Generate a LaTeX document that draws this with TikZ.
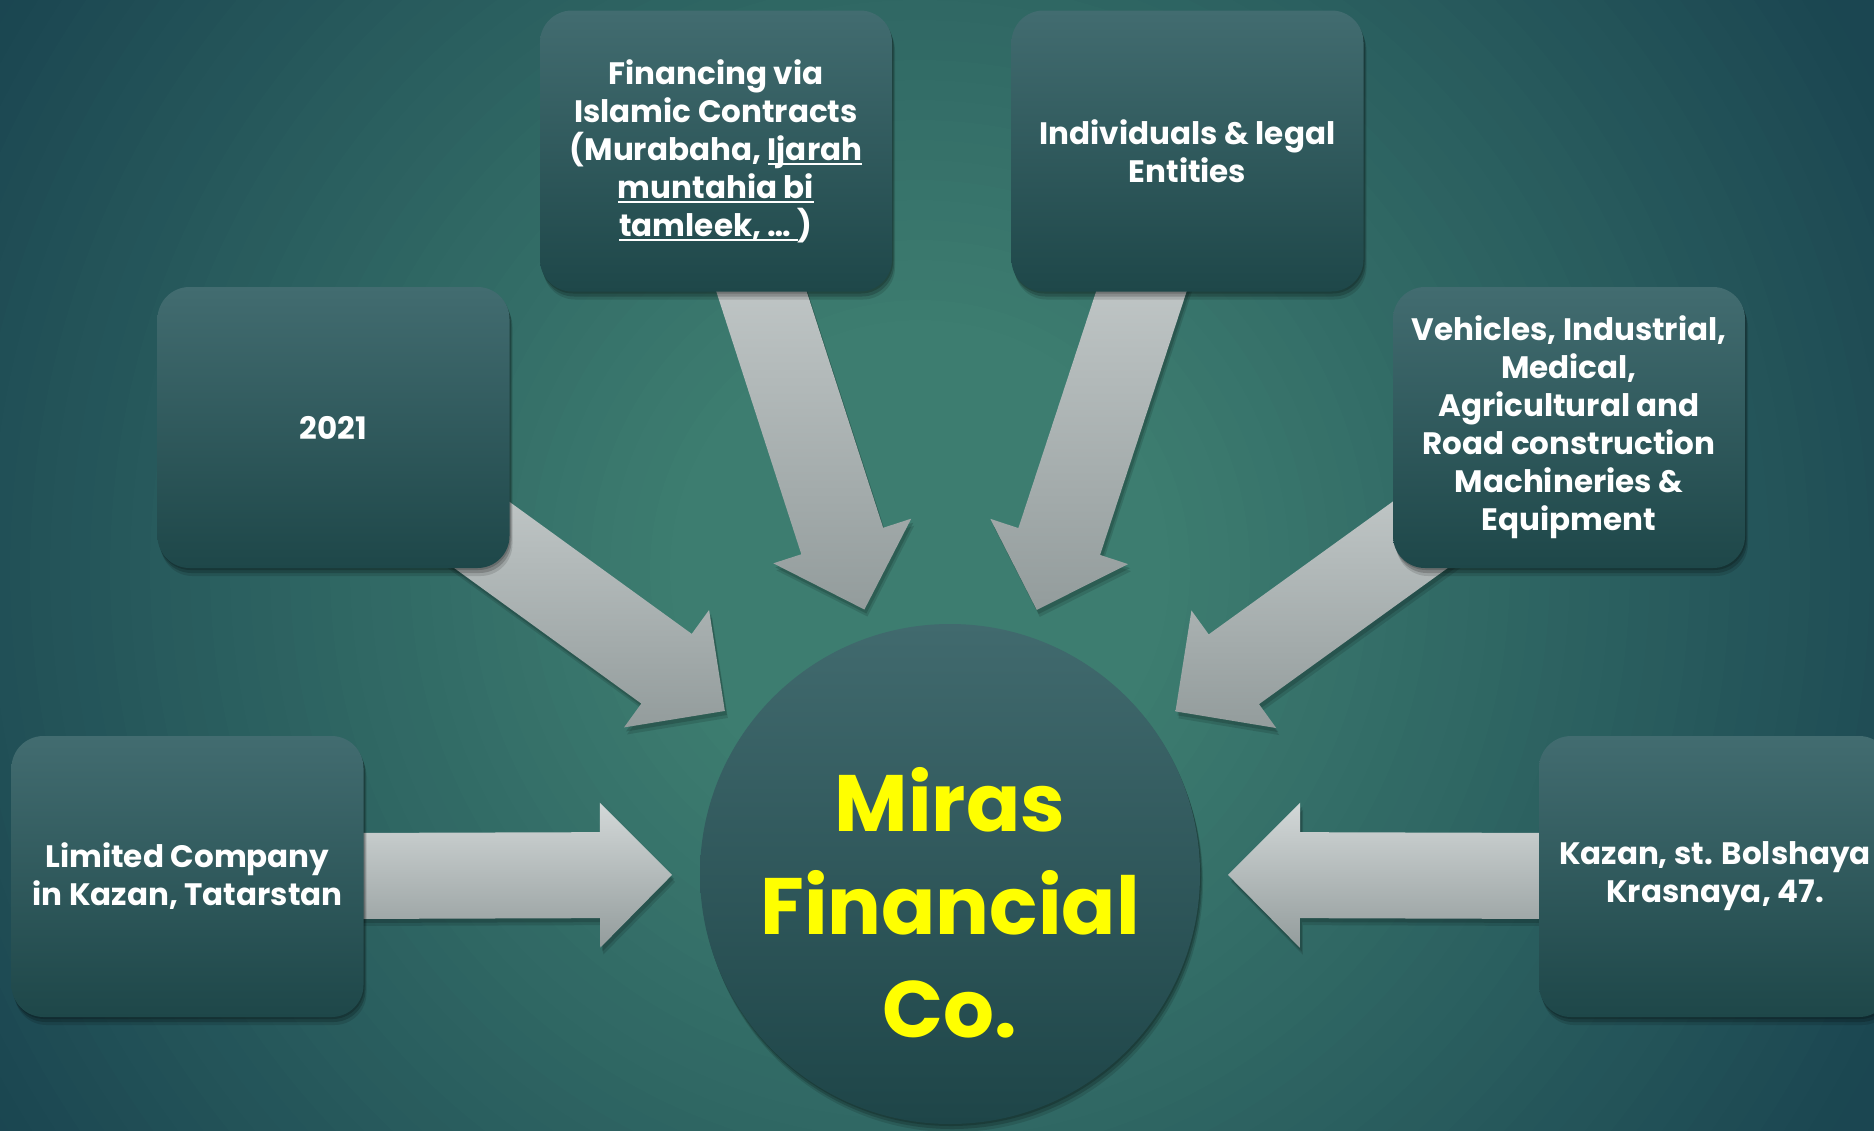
\documentclass[tikz,border=0pt]{standalone}
\usepackage{fontspec}
\setmainfont{Poppins}
\usetikzlibrary{calc,shadows}
\definecolor{bgin}{HTML}{3D7D70}
\definecolor{bgout}{HTML}{1B4651}
\definecolor{boxtop}{HTML}{426C70}
\definecolor{boxbot}{HTML}{1E4749}
\definecolor{circtop}{HTML}{416A6E}
\definecolor{circbot}{HTML}{1E4548}
\definecolor{arrtop}{HTML}{D3D8D8}
\definecolor{arrbot}{HTML}{939C9C}
\definecolor{mirasyellow}{HTML}{FFFF00}
\newcommand\ulword[1]{\setbox0\hbox{#1}\rlap{\rule[-2.6pt]{\wd0}{1pt}}\box0}
\pgfdeclarelayer{bglayer}
\pgfdeclarelayer{arrlayer}
\pgfsetlayers{bglayer,arrlayer,main}
\newcommand\blkarrow[2]{%
  \coordinate (bT) at ($(#2.center)!139pt!(#1.center)$);
  \coordinate (bH) at ($(bT)!36pt!(#1.center)$);
  \coordinate (bS) at (#1.center);
  \path[arrowsty] ($(bS)!21.5pt!90:(bT)$) -- ($(bH)!21.5pt!90:(bT)$) -- ($(bH)!36.25pt!90:(bT)$) -- (bT)
    -- ($(bH)!36.25pt!-90:(bT)$) -- ($(bH)!21.5pt!-90:(bT)$) -- ($(bS)!21.5pt!-90:(bT)$) -- cycle;
}
\tikzset{
  softshadow/.style={
    drop shadow={shadow xshift=0.5pt, shadow yshift=-1pt, opacity=0.18, fill=black},
    drop shadow={shadow xshift=1pt, shadow yshift=-2.5pt, opacity=0.18, fill=black},
    drop shadow={shadow xshift=1.5pt, shadow yshift=-4pt, opacity=0.12, fill=black}},
  infobox/.style={rectangle, rounded corners=16pt, minimum width=176pt, minimum height=140.5pt,
    inner sep=0pt, top color=boxtop, bottom color=boxbot, text=white, align=center,
    font=\bfseries\fontsize{15.5}{19}\selectfont, softshadow},
  hub/.style={circle, minimum size=250pt, inner sep=0pt, top color=circtop, bottom color=circbot,
    softshadow},
  hubtext/.style={text=mirasyellow, align=center, font=\bfseries\fontsize{40}{51.5}\selectfont},
  arrowsty/.style={top color=arrtop, bottom color=arrbot,
    drop shadow={shadow xshift=1pt, shadow yshift=-2pt, opacity=0.15, fill=black},
    drop shadow={shadow xshift=1.5pt, shadow yshift=-3.5pt, opacity=0.12, fill=black}}
}
\begin{document}
\begin{tikzpicture}[x=0.5pt,y=-0.5pt]
\useasboundingbox (0,0) rectangle (1874,1130);
\begin{pgfonlayer}{bglayer}
  \clip (0,0) rectangle (1874,1130);
  \fill[bgout] (0,0) rectangle (1874,1130);
  \foreach \r in {1250,1230,...,10} {
    \pgfmathsetmacro\p{max(0,min(100,(1080-\r)/8.3))}
    \fill[bgin!\p!bgout] (920,570) circle[radius=\r];
  }
\end{pgfonlayer}

\node[infobox] (fin) at (716,151) {Financing via\\Islamic Contracts\\(Murabaha, \ulword{Ijarah}\\\ulword{muntahia bi}\\\ulword{tamleek, …\ })};
\node[infobox] (ind) at (1187.5,151) {Individuals \& legal\\Entities};
\node[infobox] (yr) at (333.5,427.5) {2021};
\node[infobox] (veh) at (1569,427.5) {Vehicles, Industrial,\\Medical,\\Agricultural and\\Road construction\\Machineries \&\\Equipment};
\node[infobox] (ltd) at (187.5,876.5) {Limited Company\\in Kazan, Tatarstan};
\node[infobox] (kaz) at (1715,876.5) {Kazan, st. Bolshaya\\Krasnaya, 47.};
\node[hub] (hub) at (950,874) {};
\node[hubtext] (mfc) at (950,903) {Miras\\Financial\\Co.};

\begin{pgfonlayer}{arrlayer}
  \blkarrow{fin}{hub}
  \blkarrow{ind}{hub}
  \blkarrow{yr}{hub}
  \blkarrow{veh}{hub}
  \blkarrow{ltd}{hub}
  \blkarrow{kaz}{hub}
\end{pgfonlayer}
\end{tikzpicture}
\end{document}
